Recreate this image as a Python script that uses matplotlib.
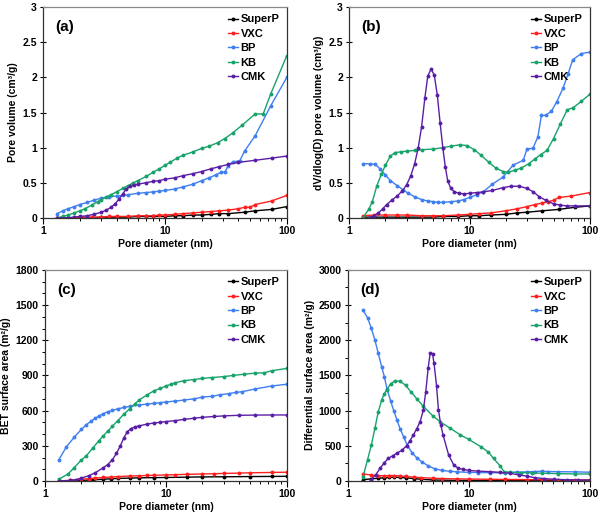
import matplotlib
matplotlib.use("Agg")
import matplotlib.pyplot as plt
from matplotlib.ticker import FixedLocator, MultipleLocator, FuncFormatter, LogLocator, NullFormatter

plt.rcParams['font.family'] = ['Liberation Sans', 'DejaVu Sans']
plt.rcParams['font.weight'] = 'bold'
plt.rcParams['axes.labelweight'] = 'bold'

names = ["SuperP", "VXC", "BP", "KB", "CMK"]
colors = ["#000000", "#ff1f1f", "#3f7fef", "#18a36a", "#5a1ea6"]

# (a) cumulative pore volume
SuperP_a_d = [1.3, 1.6, 2.0, 2.5, 3.0, 3.5, 4.0, 5.0, 6.0, 7.0, 8.0, 10, 12, 14, 17, 20, 24, 28, 33, 45, 55, 75, 100]
SuperP_a_v = [0.0, 0.0, 0.0, 0.0, 0.01, 0.01, 0.01, 0.01, 0.02, 0.02, 0.02, 0.02, 0.03, 0.03, 0.04, 0.04, 0.05, 0.06, 0.06, 0.08, 0.10, 0.12, 0.16]
VXC_a_d = [1.3, 1.6, 2.0, 2.5, 3.0, 3.5, 4.0, 5.0, 6.0, 7.0, 8.0, 9.0, 10, 12, 14, 17, 20, 24, 28, 33, 40, 45, 50, 55, 75, 100]
VXC_a_v = [0.0, 0.0, 0.01, 0.01, 0.01, 0.02, 0.02, 0.02, 0.03, 0.03, 0.03, 0.04, 0.04, 0.05, 0.06, 0.07, 0.08, 0.09, 0.10, 0.11, 0.13, 0.15, 0.15, 0.19, 0.24, 0.32]
BP_a_d = [1.3, 1.45, 1.6, 1.8, 2.0, 2.3, 2.6, 3.0, 3.5, 4.0, 4.5, 5.0, 6.0, 7.0, 8.0, 9.0, 10, 12, 14, 17, 20, 23, 26, 29, 31, 33, 36, 41, 45, 55, 74, 100]
BP_a_v = [0.06, 0.10, 0.13, 0.16, 0.19, 0.22, 0.25, 0.28, 0.30, 0.31, 0.32, 0.33, 0.35, 0.36, 0.37, 0.38, 0.39, 0.41, 0.44, 0.48, 0.53, 0.57, 0.61, 0.65, 0.65, 0.74, 0.80, 0.81, 0.95, 1.17, 1.60, 2.0]
KB_a_d = [1.3, 1.45, 1.6, 1.8, 2.0, 2.2, 2.5, 2.8, 3.0, 3.3, 3.6, 4.0, 4.5, 5.0, 5.5, 6.0, 7.0, 8.0, 9.0, 10, 11, 12.5, 14, 17, 20, 23, 27, 31, 36, 43, 55, 64, 74, 100]
KB_a_v = [0.0, 0.02, 0.04, 0.07, 0.10, 0.13, 0.18, 0.23, 0.26, 0.30, 0.33, 0.37, 0.42, 0.46, 0.50, 0.53, 0.59, 0.65, 0.70, 0.75, 0.79, 0.85, 0.89, 0.94, 0.99, 1.02, 1.07, 1.13, 1.21, 1.32, 1.48, 1.48, 1.77, 2.31]
CMK_a_d = [1.3, 1.6, 1.8, 2.0, 2.3, 2.6, 3.0, 3.3, 3.6, 3.9, 4.2, 4.5, 4.8, 5.2, 5.6, 6.0, 7.0, 8.0, 9.0, 10, 12, 14, 17, 20, 24, 28, 33, 40, 55, 75, 100]
CMK_a_v = [0.0, 0.0, 0.01, 0.02, 0.03, 0.05, 0.08, 0.11, 0.15, 0.20, 0.27, 0.34, 0.41, 0.45, 0.47, 0.48, 0.50, 0.52, 0.53, 0.55, 0.57, 0.60, 0.63, 0.66, 0.70, 0.73, 0.76, 0.79, 0.82, 0.85, 0.88]

# (b) dV/dlog(D)
SuperP_b_d = [1.3, 1.6, 2.0, 2.5, 3.0, 4.0, 5.0, 6.0, 8.0, 10, 12, 15, 20, 25, 30, 40, 55, 75, 100]
SuperP_b_v = [0.01, 0.01, 0.01, 0.01, 0.01, 0.01, 0.01, 0.02, 0.02, 0.03, 0.03, 0.04, 0.05, 0.07, 0.08, 0.10, 0.12, 0.15, 0.17]
VXC_b_d = [1.3, 1.6, 2.0, 2.5, 3.0, 4.0, 5.0, 6.0, 8.0, 10, 12, 15, 20, 25, 30, 35, 40, 45, 50, 55, 70, 100]
VXC_b_v = [0.03, 0.04, 0.04, 0.04, 0.04, 0.03, 0.03, 0.03, 0.04, 0.05, 0.06, 0.07, 0.10, 0.13, 0.16, 0.19, 0.21, 0.23, 0.25, 0.29, 0.31, 0.36]
BP_b_d = [1.3, 1.5, 1.65, 1.8, 2.0, 2.2, 2.5, 2.8, 3.1, 3.5, 4.0, 4.5, 5.0, 5.5, 6.0, 7.0, 8.0, 9.0, 10, 11.5, 13, 15.5, 19, 23, 28, 30, 33.6, 37, 39.6, 43, 48, 53, 60, 66, 72, 85, 100]
BP_b_v = [0.77, 0.77, 0.76, 0.70, 0.61, 0.53, 0.46, 0.40, 0.35, 0.30, 0.26, 0.24, 0.23, 0.22, 0.22, 0.23, 0.24, 0.26, 0.29, 0.33, 0.37, 0.48, 0.58, 0.75, 0.82, 0.98, 0.99, 1.15, 1.46, 1.46, 1.52, 1.65, 1.85, 2.05, 2.25, 2.34, 2.36]
KB_b_d = [1.3, 1.45, 1.55, 1.7, 1.85, 2.0, 2.2, 2.4, 2.7, 3.0, 3.5, 4.0, 5.0, 6.0, 7.0, 8.3, 9.5, 11, 12.5, 14.5, 16.5, 19, 21, 24, 27, 31, 35, 39, 44, 50, 57, 65, 73, 85, 100]
KB_b_v = [0.0, 0.12, 0.22, 0.46, 0.62, 0.75, 0.88, 0.93, 0.94, 0.95, 0.96, 0.97, 0.98, 1.00, 1.02, 1.04, 1.03, 0.97, 0.89, 0.79, 0.71, 0.66, 0.65, 0.68, 0.71, 0.77, 0.84, 0.90, 0.96, 1.13, 1.34, 1.54, 1.57, 1.66, 1.76]
CMK_b_d = [1.45, 1.6, 1.75, 1.9, 2.05, 2.25, 2.5, 2.75, 3.0, 3.25, 3.5, 3.75, 4.0, 4.25, 4.5, 4.8, 5.1, 5.4, 5.7, 6.0, 6.3, 6.6, 7.0, 7.5, 8.2, 9.0, 10, 11.5, 13, 15.5, 19, 22, 26, 30, 34, 38, 43, 50, 57, 65, 75, 100]
CMK_b_v = [0.0, 0.03, 0.07, 0.13, 0.19, 0.25, 0.31, 0.38, 0.47, 0.60, 0.77, 1.0, 1.30, 1.70, 2.02, 2.12, 2.03, 1.75, 1.35, 1.0, 0.72, 0.52, 0.42, 0.37, 0.35, 0.34, 0.35, 0.36, 0.37, 0.39, 0.43, 0.45, 0.45, 0.42, 0.37, 0.30, 0.25, 0.20, 0.18, 0.17, 0.17, 0.17]

# (c) cumulative BET surface area
SuperP_c_d = [1.3, 1.6, 2.0, 2.5, 3.0, 3.5, 4.0, 5.0, 6.0, 8.0, 10, 15, 20, 30, 50, 75, 100]
SuperP_c_v = [0, 2, 5, 10, 15, 19, 22, 25, 27, 29, 30, 33, 35, 36, 38, 39, 40]
VXC_c_d = [1.3, 1.6, 2.0, 2.3, 2.6, 3.0, 3.5, 4.0, 5.0, 6.0, 7.0, 8.0, 10, 12, 15, 20, 25, 30, 40, 50, 75, 100]
VXC_c_v = [0, 5, 15, 20, 25, 30, 34, 38, 42, 45, 47, 49, 52, 54, 57, 60, 62, 65, 67, 70, 73, 75]
BP_c_d = [1.3, 1.5, 1.75, 2.0, 2.2, 2.4, 2.6, 2.8, 3.0, 3.3, 3.6, 4.0, 4.5, 5.0, 6.0, 7.0, 8.0, 9.0, 10, 12, 14, 17, 20, 24, 28, 33, 38, 43, 55, 75, 100]
BP_c_v = [180, 290, 375, 440, 480, 510, 535, 555, 572, 590, 602, 615, 627, 636, 648, 656, 662, 668, 673, 682, 690, 700, 715, 722, 735, 745, 755, 762, 785, 810, 825]
KB_c_d = [1.3, 1.55, 1.75, 2.0, 2.2, 2.5, 2.8, 3.0, 3.3, 3.6, 4.0, 4.5, 5.0, 5.5, 6.0, 7.0, 8.0, 9.0, 10, 11, 12, 14, 17, 20, 24, 30, 36, 44, 55, 65, 75, 100]
KB_c_v = [15, 60, 115, 180, 215, 285, 345, 380, 425, 465, 515, 570, 615, 655, 690, 735, 770, 790, 810, 825, 838, 855, 865, 875, 882, 890, 900, 910, 920, 922, 940, 960]
CMK_c_d = [1.3, 1.6, 1.8, 2.0, 2.3, 2.6, 3.0, 3.3, 3.6, 3.9, 4.2, 4.5, 4.8, 5.1, 5.5, 6.0, 7.0, 8.0, 9.0, 10, 12, 14, 17, 20, 25, 30, 40, 55, 75, 100]
CMK_c_v = [0, 5, 12, 25, 45, 70, 110, 140, 180, 235, 300, 370, 420, 445, 460, 470, 485, 495, 500, 507, 515, 525, 535, 543, 550, 555, 560, 562, 563, 563]

# (d) differential surface area
SuperP_d_d = [1.33, 1.56, 1.78, 2.0, 2.2, 2.4, 2.7, 3.0, 3.5, 4.0, 5.0, 6.0, 8.0, 10, 15, 20, 30, 50, 100]
SuperP_d_v = [20, 30, 40, 45, 50, 55, 50, 45, 35, 25, 15, 12, 9, 8, 7, 6, 6, 5, 5]
VXC_d_d = [1.33, 1.56, 1.78, 2.0, 2.2, 2.4, 2.7, 3.0, 3.5, 4.0, 5.0, 6.0, 8.0, 10, 15, 20, 30, 40, 55, 75, 100]
VXC_d_v = [100, 85, 75, 75, 78, 78, 72, 65, 55, 48, 40, 35, 30, 28, 25, 22, 20, 18, 17, 16, 15]
BP_d_d = [1.33, 1.45, 1.56, 1.67, 1.78, 1.9, 2.0, 2.1, 2.25, 2.4, 2.55, 2.7, 2.9, 3.1, 3.4, 3.7, 4.1, 4.6, 5.2, 6.0, 7.0, 8.0, 10, 12, 15, 20, 25, 30, 35, 40, 45, 55, 75, 100]
BP_d_v = [2430, 2320, 2170, 2000, 1815, 1620, 1480, 1310, 1140, 990, 860, 740, 620, 500, 400, 330, 270, 215, 175, 150, 138, 130, 123, 120, 118, 115, 125, 130, 135, 138, 135, 132, 130, 125]
KB_d_d = [1.33, 1.45, 1.56, 1.67, 1.78, 1.9, 2.0, 2.1, 2.25, 2.45, 2.7, 3.0, 3.3, 3.7, 4.2, 5.0, 5.8, 7.0, 8.5, 10, 12.5, 14.5, 16, 18, 19.5, 22, 27, 33, 40, 55, 75, 100]
KB_d_v = [60, 300, 512, 750, 985, 1150, 1240, 1300, 1380, 1425, 1415, 1360, 1270, 1170, 1060, 930, 840, 750, 655, 590, 490, 410, 320, 220, 135, 125, 120, 115, 110, 105, 100, 100]
CMK_d_d = [1.55, 1.7, 1.84, 2.0, 2.15, 2.35, 2.53, 2.8, 3.06, 3.25, 3.47, 3.7, 3.95, 4.2, 4.4, 4.6, 4.78, 5.0, 5.15, 5.4, 5.6, 5.85, 6.1, 6.8, 7.5, 8.2, 9.0, 10, 12, 15, 18, 22, 26, 30, 35, 42, 51, 65, 80, 100]
CMK_d_v = [20, 90, 180, 260, 322, 360, 393, 440, 502, 570, 654, 740, 843, 1010, 1270, 1600, 1815, 1810, 1670, 1350, 1010, 800, 660, 370, 227, 180, 165, 150, 140, 133, 123, 110, 85, 70, 47, 35, 24, 18, 15, 14]

panels = [
    ("(a)", [(SuperP_a_d, SuperP_a_v), (VXC_a_d, VXC_a_v), (BP_a_d, BP_a_v), (KB_a_d, KB_a_v), (CMK_a_d, CMK_a_v)],
     "Pore volume (cm³/g)", 3, 0.5, None, [0.072, 0.577, 0.406, 0.409]),
    ("(b)", [(SuperP_b_d, SuperP_b_v), (VXC_b_d, VXC_b_v), (BP_b_d, BP_b_v), (KB_b_d, KB_b_v), (CMK_b_d, CMK_b_v)],
     "dV/dlog(D) pore volume (cm³/g)", 3, 0.5, None, [0.582, 0.577, 0.401, 0.409]),
    ("(c)", [(SuperP_c_d, SuperP_c_v), (VXC_c_d, VXC_c_v), (BP_c_d, BP_c_v), (KB_c_d, KB_c_v), (CMK_c_d, CMK_c_v)],
     "BET surface area (m²/g)", 1800, 300, 100, [0.075, 0.066, 0.403, 0.410]),
    ("(d)", [(SuperP_d_d, SuperP_d_v), (VXC_d_d, VXC_d_v), (BP_d_d, BP_d_v), (KB_d_d, KB_d_v), (CMK_d_d, CMK_d_v)],
     "Differential surface area (m²/g)", 3000, 500, 250, [0.580, 0.066, 0.403, 0.410]),
]


def draw_panel(fig, tag, series, ylabel, ymax, ystep, yminor, rect):
    ax = fig.add_axes(rect)
    for (d, v), name, c in zip(series, names, colors):
        ax.plot(d, v, color=c, lw=1.0, marker='o', ms=1.8, label=name)
    ax.set_xscale('log')
    ax.set_xlim(1, 100)
    ax.set_ylim(0, ymax)
    ax.xaxis.set_major_formatter(FuncFormatter(lambda x, p: f"{x:g}"))
    ax.xaxis.set_minor_locator(LogLocator(base=10, subs=range(2, 10)))
    ax.xaxis.set_minor_formatter(NullFormatter())
    ax.yaxis.set_major_locator(MultipleLocator(ystep))
    ax.yaxis.set_major_formatter(FuncFormatter(lambda y, p: f"{y:g}"))
    if yminor:
        ax.yaxis.set_minor_locator(MultipleLocator(yminor))
    else:
        ax.yaxis.set_minor_locator(FixedLocator([]))
    ax.tick_params(axis='y', which='major', direction='inout', length=5, width=0.8, labelsize=7.5, pad=2)
    ax.tick_params(axis='y', which='minor', direction='out', length=2.5, width=0.7)
    ax.tick_params(axis='x', which='major', direction='out', length=4, width=0.8, labelsize=7.5, pad=2)
    ax.tick_params(axis='x', which='minor', direction='out', length=2.5, width=0.7)
    for s in ['left', 'bottom', 'right']:
        ax.spines[s].set_color('#333333')
        ax.spines[s].set_linewidth(0.9)
    ax.spines['top'].set_color('#888888')
    ax.spines['top'].set_linewidth(0.9)
    ax.set_xlabel("Pore diameter (nm)", fontsize=7.5, labelpad=2)
    ax.set_ylabel(ylabel, fontsize=7.5, labelpad=3)
    ax.text(0.05, 0.94, tag, transform=ax.transAxes, fontsize=11, fontweight='bold', va='top')
    ax.legend(loc='upper right', frameon=False, fontsize=8, handlelength=0.9,
              handletextpad=0.2, labelspacing=0.4, borderaxespad=0.25, markerscale=1.0)
    return ax


def main():
    fig = plt.figure(figsize=(6.0, 5.15), dpi=100)
    for tag, series, ylabel, ymax, ystep, yminor, rect in panels:
        draw_panel(fig, tag, series, ylabel, ymax, ystep, yminor, rect)
    fig.savefig("out.png", dpi=100)


if __name__ == "__main__":
    main()
